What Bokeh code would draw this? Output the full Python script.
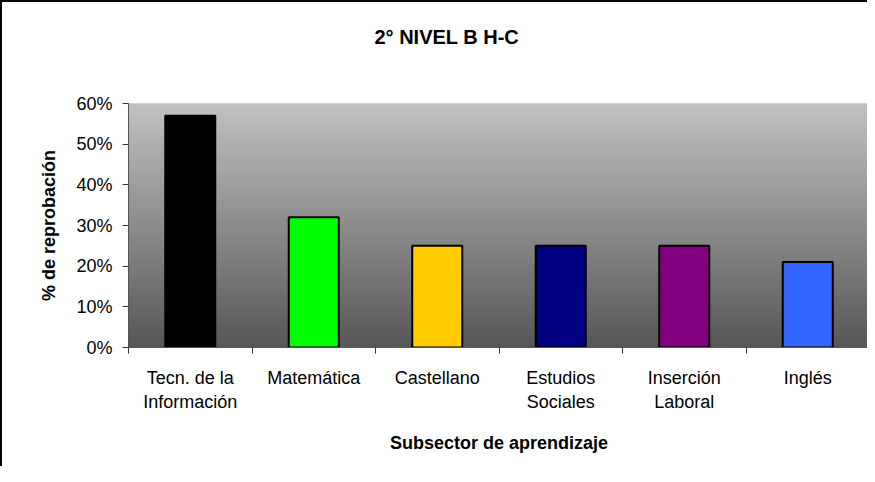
import numpy as np
from bokeh.plotting import figure
from bokeh.models import (Range1d, FixedTicker, NumeralTickFormatter, Title)
from bokeh.embed import file_html
from bokeh.resources import INLINE

# ---- data ----
categories = ["Tecn. de la\nInformación", "Matemática", "Castellano",
              "Estudios\nSociales", "Inserción\nLaboral", "Inglés"]
values = [0.57, 0.32, 0.25, 0.25, 0.25, 0.21]
colors = ["#000000", "#00FF00", "#FFCC00", "#000080", "#800080", "#3366FF"]
y_ticks = [0.0, 0.1, 0.2, 0.3, 0.4, 0.5, 0.6]
title_text = "2° NIVEL B H-C"
x_title = "Subsector de aprendizaje"
y_title = "% de reprobación"

FONT = "Liberation Sans"
ncat = len(categories)
centers = [i + 0.5 for i in range(ncat)]

p = figure(width=867, height=466, output_backend="svg", toolbar_location=None,
           x_range=Range1d(0, ncat), y_range=Range1d(0, 0.6),
           min_border_left=126, min_border_right=0,
           min_border_top=101, min_border_bottom=121)

# gradient background of the plot area (top light -> bottom dark)
n = 256
g = np.linspace(0x57, 0xC2, n).astype(np.uint32)
img = (np.uint32(0xFF) << 24) | (g << 16) | (g << 8) | g
img = img.reshape(n, 1)
p.image_rgba(image=[img], x=0, y=0, dw=ncat, dh=0.6)

p.vbar(x=centers, top=values, width=0.405, fill_color=colors,
       line_color="black", line_width=2)

p.background_fill_color = "white"
p.border_fill_color = "white"
p.outline_line_color = "#d8d8d8"
p.outline_line_width = 1

# grid
p.xgrid.grid_line_color = None
p.ygrid.ticker = FixedTicker(ticks=[0.1, 0.2, 0.3, 0.4, 0.5])
p.ygrid.grid_line_color = "#333333"
p.ygrid.grid_line_width = 1.5

# y axis
ya = p.yaxis[0]
ya.ticker = FixedTicker(ticks=y_ticks)
ya.formatter = NumeralTickFormatter(format="0%")
ya.major_tick_in = 0
ya.major_tick_out = 6
ya.minor_tick_line_color = None
ya.major_tick_line_color = "#333333"
ya.axis_line_color = "#555555"
ya.major_label_text_font = FONT
ya.major_label_text_font_size = "18px"
ya.major_label_text_color = "black"
ya.major_label_standoff = 10
ya.axis_label = y_title
ya.axis_label_text_font = FONT
ya.axis_label_text_font_size = "18px"
ya.axis_label_text_font_style = "bold"
ya.axis_label_text_color = "black"
ya.axis_label_standoff = 14

# x axis: labels at centers, ticks (minor) at category boundaries
xa = p.xaxis[0]
xa.ticker = FixedTicker(ticks=centers, minor_ticks=list(range(ncat + 1)))
xa.major_label_overrides = {c: lab for c, lab in zip(centers, categories)}
xa.major_tick_line_color = None
xa.minor_tick_in = 0
xa.minor_tick_out = 6
xa.minor_tick_line_color = "#333333"
xa.axis_line_color = "#555555"
xa.major_label_text_font = FONT
xa.major_label_text_font_size = "18px"
xa.major_label_text_color = "black"
xa.major_label_standoff = 14
xa.axis_label = x_title
xa.axis_label_text_font = FONT
xa.axis_label_text_font_size = "18px"
xa.axis_label_text_font_style = "bold"
xa.axis_label_text_color = "black"
xa.axis_label_standoff = 18

# spacer title (blank) between the frame and the real title
spacer = Title(text=" ", align="left", standoff=30, vertical_align="top",
               text_font=FONT, text_font_size="20px", text_font_style="bold",
               text_color="white")
t = Title(text=title_text, align="left", offset=246, standoff=0,
          vertical_align="top",
          text_font=FONT, text_font_size="20px", text_font_style="bold",
          text_color="black")
p.above = [spacer, t]

p.styles = {"border-left": "2px solid black", "border-top": "2px solid black"}

open("out.html", "w").write(file_html(p, INLINE))
